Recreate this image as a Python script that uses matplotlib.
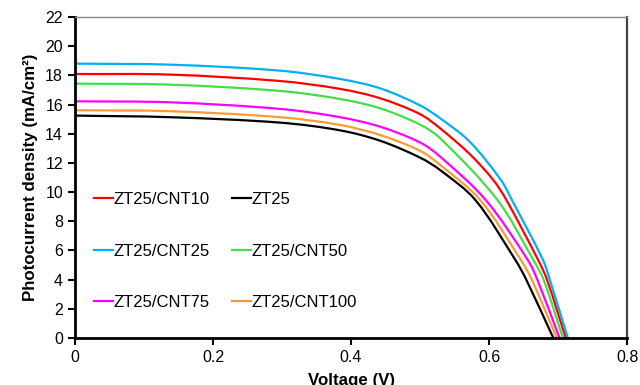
import matplotlib
matplotlib.use('Agg')
import matplotlib.pyplot as plt
import numpy as np
from matplotlib.path import Path
from matplotlib.patches import PathPatch

plt.rcParams['font.family'] = ['Liberation Sans', 'DejaVu Sans']

# значения (V, mA/cm2)
v_cnt10 = [0, 0.138, 0.297, 0.384, 0.442, 0.5, 0.529, 0.572, 0.606, 0.625, 0.671, 0.684, 0.711]
j_cnt10 = [18.09, 18.05, 17.61, 17.07, 16.43, 15.34, 14.37, 12.60, 10.83, 9.46, 5.35, 3.98, 0]

v_zt25 = [0, 0.138, 0.297, 0.384, 0.442, 0.5, 0.529, 0.580, 0.638, 0.654, 0.693]
j_zt25 = [15.24, 15.13, 14.76, 14.23, 13.52, 12.36, 11.51, 9.46, 5.35, 3.98, 0]

v_cnt25 = [0, 0.138, 0.297, 0.384, 0.442, 0.5, 0.529, 0.572, 0.617, 0.633, 0.678, 0.688, 0.714]
j_cnt25 = [18.80, 18.73, 18.32, 17.75, 17.11, 15.94, 15.06, 13.45, 10.83, 9.46, 5.35, 3.98, 0]

v_cnt50 = [0, 0.138, 0.297, 0.384, 0.442, 0.5, 0.529, 0.612, 0.664, 0.679, 0.707]
j_cnt50 = [17.43, 17.36, 16.93, 16.38, 15.74, 14.62, 13.69, 9.46, 5.35, 3.98, 0]

v_cnt75 = [0, 0.138, 0.297, 0.384, 0.442, 0.5, 0.529, 0.595, 0.656, 0.670, 0.702]
j_cnt75 = [16.22, 16.15, 15.70, 15.13, 14.48, 13.40, 12.43, 9.46, 5.35, 3.98, 0]

v_cnt100 = [0, 0.138, 0.297, 0.384, 0.442, 0.5, 0.529, 0.587, 0.646, 0.662, 0.698]
j_cnt100 = [15.61, 15.54, 15.13, 14.60, 13.91, 12.83, 11.86, 9.46, 5.35, 3.98, 0]

x_ticks = [0, 0.2, 0.4, 0.6, 0.8]
x_labels = ['0', '0.2', '0.4', '0.6', '0.8']
y_ticks = list(range(0, 23, 2))


# сглаженная линия как в Excel (кривые Безье через точки)
def smooth_line(ax, x, y, color, lw, label):
    p = np.column_stack([x, y]).astype(float)
    d = ax.transData.transform(p)
    t = np.concatenate([[0], np.cumsum(np.hypot(*np.diff(d, axis=0).T))])
    n = len(p)
    m = np.zeros_like(p)
    m[0] = (p[1] - p[0]) / (t[1] - t[0])
    m[-1] = (p[-1] - p[-2]) / (t[-1] - t[-2])
    for i in range(1, n - 1):
        m[i] = (p[i + 1] - p[i - 1]) / (t[i + 1] - t[i - 1])
    verts = [p[0]]
    codes = [Path.MOVETO]
    for i in range(n - 1):
        h = t[i + 1] - t[i]
        verts += [p[i] + m[i] * h / 3, p[i + 1] - m[i + 1] * h / 3, p[i + 1]]
        codes += [Path.CURVE4] * 3
    ax.add_patch(PathPatch(Path(verts, codes), fill=False, edgecolor=color, lw=lw,
                           capstyle='butt', joinstyle='round'))
    line, = ax.plot([], [], color=color, lw=lw, label=label)
    return line


fig = plt.figure(figsize=(6.4, 3.85), dpi=100)
ax = fig.add_axes([0.117, 0.122, 0.863, 0.834])
ax.set_xlim(0, 0.8)
ax.set_ylim(0, 22)

lw = 1.6
l1 = smooth_line(ax, v_cnt10, j_cnt10, '#FF0000', lw, 'ZT25/CNT10')
l2 = smooth_line(ax, v_zt25, j_zt25, '#000000', lw, 'ZT25')
l3 = smooth_line(ax, v_cnt25, j_cnt25, '#00B0F0', lw, 'ZT25/CNT25')
l4 = smooth_line(ax, v_cnt50, j_cnt50, '#44DD44', lw, 'ZT25/CNT50')
l5 = smooth_line(ax, v_cnt75, j_cnt75, '#FF00FF', lw, 'ZT25/CNT75')
l6 = smooth_line(ax, v_cnt100, j_cnt100, '#FF9933', lw, 'ZT25/CNT100')

ax.set_xlim(0, 0.8)
ax.set_ylim(0, 22)
ax.set_xticks(x_ticks)
ax.set_xticklabels(x_labels)
ax.set_yticks(y_ticks)
ax.tick_params(direction='out', length=5, width=1.5, labelsize=11.5, colors='black')

ax.spines['left'].set_linewidth(2)
ax.spines['bottom'].set_linewidth(2)
ax.spines['top'].set_color('#888888')
ax.spines['top'].set_linewidth(1)
ax.spines['right'].set_color('#444444')
ax.spines['right'].set_linewidth(1.6)

ax.set_xlabel('Voltage (V)', fontsize=12.2, fontweight='bold', labelpad=6)
ax.set_ylabel('Photocurrent density (mA/cm²)', fontsize=12.2, fontweight='bold', labelpad=5)

# порядок: колонки заполняются сверху вниз
ax.legend(handles=[l1, l3, l5, l2, l4, l6], ncol=2, frameon=False, fontsize=12,
          loc='upper left', bbox_to_anchor=(0.008, 0.502), handlelength=1.1,
          handletextpad=0.05, labelspacing=2.2, columnspacing=1.35)

fig.savefig('out.png', dpi=100)
